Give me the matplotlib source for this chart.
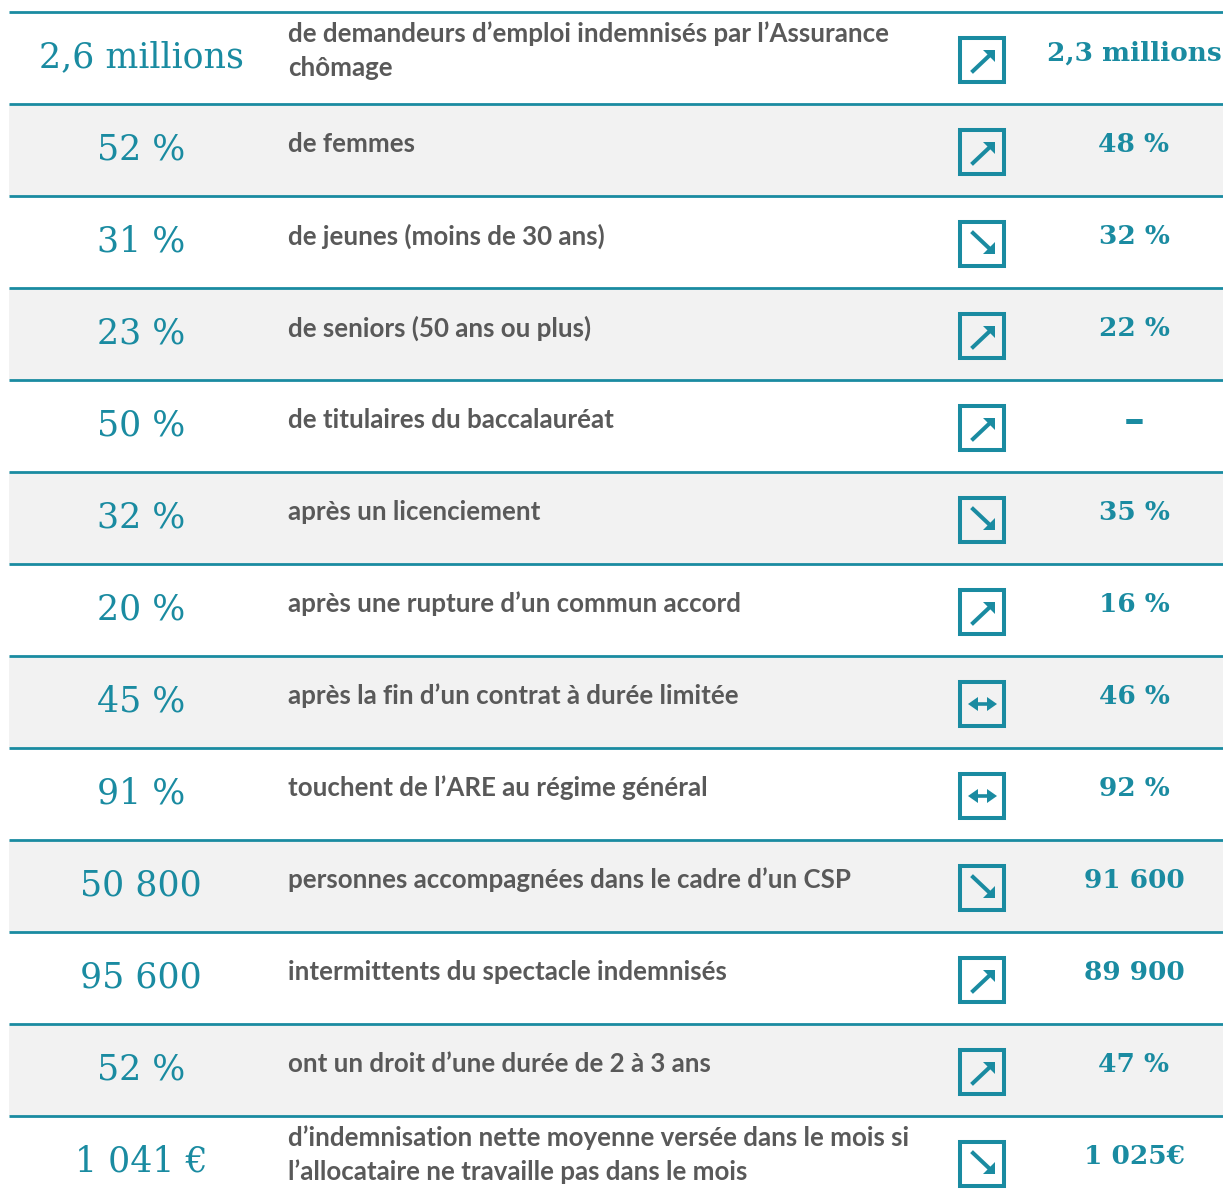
import matplotlib
matplotlib.use("Agg")
import matplotlib.pyplot as plt
from matplotlib.patches import Rectangle, Polygon

# data
left_values = ["2,6 millions", "52 %", "31 %", "23 %", "50 %", "32 %", "20 %",
               "45 %", "91 %", "50 800", "95 600", "52 %", "1 041 €"]
labels = [
    "de demandeurs d\u2019emploi indemnisés par l\u2019Assurance\nchômage",
    "de femmes",
    "de jeunes (moins de 30 ans)",
    "de seniors (50 ans ou plus)",
    "de titulaires du baccalauréat",
    "après un licenciement",
    "après une rupture d\u2019un commun accord",
    "après la fin d\u2019un contrat à durée limitée",
    "touchent de l\u2019ARE au régime général",
    "personnes accompagnées dans le cadre d\u2019un CSP",
    "intermittents du spectacle indemnisés",
    "ont un droit d\u2019une durée de 2 à 3 ans",
    "d\u2019indemnisation nette moyenne versée dans le mois si\nl\u2019allocataire ne travaille pas dans le mois",
]
trends = ["up", "up", "down", "up", "up", "down", "up",
          "both", "both", "down", "up", "up", "down"]
right_values = ["2,3 millions", "48 %", "32 %", "22 %", "\u2013", "35 %", "16 %",
                "46 %", "92 %", "91 600", "89 900", "47 %", "1 025€"]

# style
TEAL = "#1a8ba1"
GREY_TXT = "#595959"
GREY_BG = "#f2f2f2"
W, H = 1223, 1198
TOP = 12
ROW_H = 92


def draw_icon(ax, bx, by, kind):
    # square frame + arrow, in pixel coords (y downwards)
    ax.add_patch(Rectangle((bx, by), 44, 44, fill=False, ec=TEAL, lw=2.9, zorder=3))
    if kind == "up":
        ax.plot([bx + 13, bx + 31], [by + 33, by + 16], color=TEAL, lw=2.9, zorder=4)
        head = [(bx + 35, by + 12), (bx + 23, by + 12), (bx + 35, by + 24)]
        ax.add_patch(Polygon(head, closed=True, color=TEAL, lw=0, zorder=4))
    elif kind == "down":
        ax.plot([bx + 13, bx + 31], [by + 11, by + 28], color=TEAL, lw=2.9, zorder=4)
        head = [(bx + 35, by + 32), (bx + 23, by + 32), (bx + 35, by + 20)]
        ax.add_patch(Polygon(head, closed=True, color=TEAL, lw=0, zorder=4))
    else:
        ax.plot([bx + 14, bx + 31], [by + 22, by + 22], color=TEAL, lw=2.6, zorder=4)
        for tip, sgn in ((bx + 8, 1), (bx + 37, -1)):
            head = [(tip, by + 22), (tip + sgn * 10, by + 15), (tip + sgn * 10, by + 29)]
            ax.add_patch(Polygon(head, closed=True, color=TEAL, lw=0, zorder=4))


fig = plt.figure(figsize=(W / 100, H / 100), dpi=100)
ax = fig.add_axes([0, 0, 1, 1])
ax.set_xlim(0, W)
ax.set_ylim(H, 0)
ax.axis("off")

for i in range(len(left_values)):
    y0 = TOP + i * ROW_H
    if i % 2 == 1:
        ax.add_patch(Rectangle((9, y0), W - 9, ROW_H, color=GREY_BG, lw=0, zorder=0))
    ax.plot([9, W], [y0, y0], color=TEAL, lw=2, solid_capstyle="butt", zorder=2)

    # left big number
    ax.text(141, y0 + 45, left_values[i], ha="center", va="center",
            family="DejaVu Serif", fontsize=25, color=TEAL)

    # description
    if "\n" in labels[i]:
        l1, l2 = labels[i].split("\n")
        ax.text(288, y0 + 22, l1, ha="left", va="center", family="Lato",
                weight="bold", fontsize=18.6, color=GREY_TXT)
        ax.text(288, y0 + 56, l2, ha="left", va="center", family="Lato",
                weight="bold", fontsize=18.6, color=GREY_TXT)
    else:
        ax.text(288, y0 + 40, labels[i], ha="left", va="center", family="Lato",
                weight="bold", fontsize=18.6, color=GREY_TXT)

    # trend icon
    draw_icon(ax, 960, y0 + 26, trends[i])

    # right value (lone dash drawn a bit larger, like the original bar)
    fs = 30 if right_values[i] == "\u2013" else 19
    ax.text(1134, y0 + 41, right_values[i], ha="center", va="center",
            family="DejaVu Serif", weight="bold", fontsize=fs, color=TEAL)

fig.savefig("out.png", dpi=100)
